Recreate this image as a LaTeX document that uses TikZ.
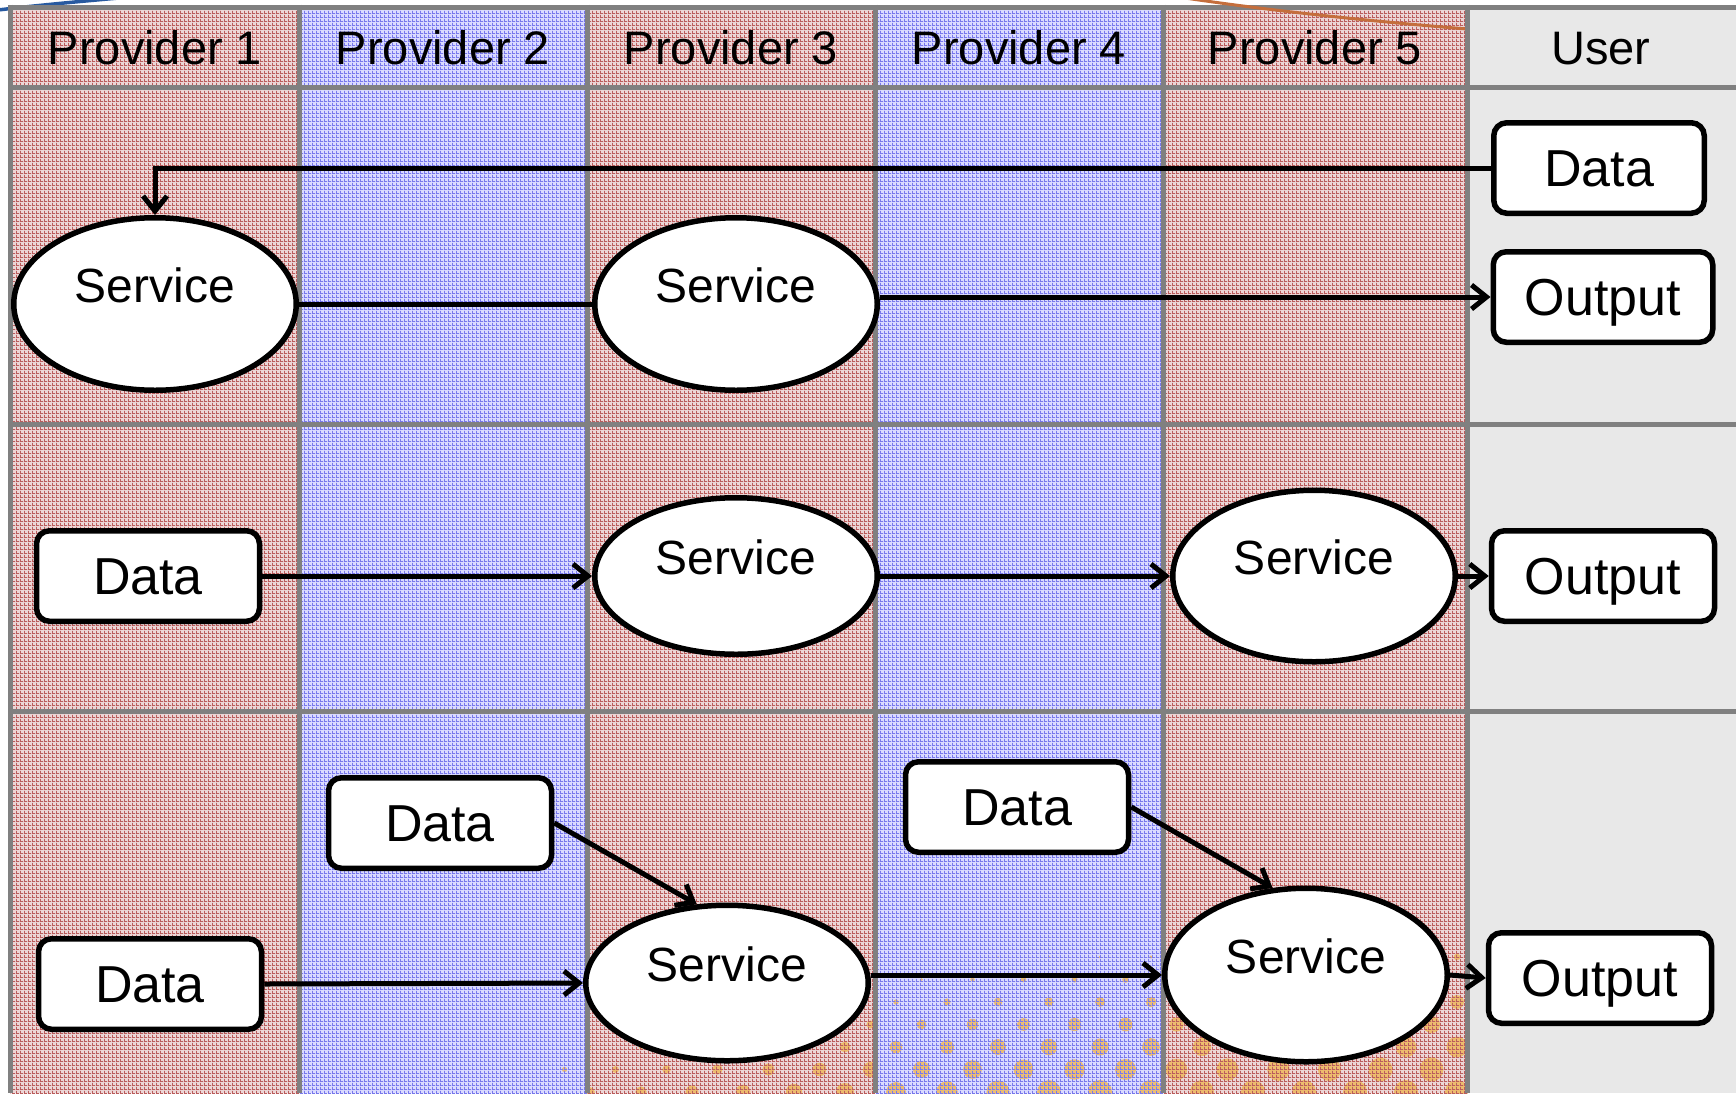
\documentclass[tikz,border=0pt]{standalone}
\usepackage{fontspec}
\setmainfont{Liberation Sans}
\usetikzlibrary{arrows.meta,shapes.geometric,patterns.meta}

\definecolor{redbase}{RGB}{236,214,214}
\definecolor{redline}{RGB}{186,92,92}
\definecolor{bluebase}{RGB}{218,218,255}
\definecolor{blueline}{RGB}{120,120,236}
\definecolor{usergray}{RGB}{232,232,232}
\definecolor{rulegray}{RGB}{128,128,128}
\definecolor{dotorange}{RGB}{238,184,92}
\definecolor{swooshblue}{RGB}{40,90,160}
\definecolor{swooshbrown}{RGB}{196,110,60}

% fine mesh used as the cell texture
\tikzdeclarepattern{
  name=mesh,
  type=uncolored,
  bounding box={(0pt,0pt) and (4pt,4pt)},
  tile size={(4pt,4pt)},
  code={
    \fill (0pt,0pt) rectangle (4pt,1pt);
    \fill (0pt,0pt) rectangle (1pt,4pt);
  }
}

\begin{document}
\begin{tikzpicture}[x=1pt,y=-1pt,
  svc/.style={ellipse, draw, line width=5.5pt, fill=white, inner sep=0pt,
    minimum width=282.5pt, font=\fontsize{48pt}{56pt}\selectfont,
    text height=35pt, text depth=38pt},
  box/.style={rectangle, rounded corners=13pt, draw, line width=5.5pt, fill=white,
    inner sep=0pt, minimum width=223pt, minimum height=90.5pt,
    font=\fontsize{52pt}{60pt}\selectfont, text height=37.4pt, text depth=0pt},
  head/.style={inner sep=0pt, font=\fontsize{47pt}{56pt}\selectfont,
    text height=33.7pt, text depth=0pt},
  conn/.style={line width=5pt},
  arr/.style={conn, -{Straight Barb[length=15pt,width=24pt]}},
  rule/.style={draw=rulegray, line width=5pt},
  redmesh/.style={pattern=mesh, pattern color=redline},
  bluemesh/.style={pattern=mesh, pattern color=blueline}
]
\useasboundingbox (0,0) rectangle (1736,1093);

% column backgrounds
\fill[redbase]  (10.5,7) rectangle (299.5,1093);
\fill[bluebase] (299.5,7) rectangle (587,1093);
\fill[redbase]  (587,7) rectangle (875,1093);
\fill[bluebase] (875,7) rectangle (1163,1093);
\fill[redbase]  (1163,7) rectangle (1467.5,1093);
\fill[usergray] (1467.5,7) rectangle (1736,1093);

% halftone dots in the lower row
\begin{scope}
  \clip (560,711) rectangle (1467.5,1093);
  \foreach \k in {0,...,6} {
    \pgfmathsetmacro{\yy}{957+22.5*\k}
    \pgfmathsetmacro{\xoff}{mod(\k,2)==0 ? 896 : 921.5}
    \foreach \m in {-7,...,11} {
      \pgfmathsetmacro{\xx}{\xoff+51*\m}
      \pgfmathsetmacro{\rr}{min(24, 0.16*(\yy-947) + (\xx<1000 ? 0.033 : 0.011)*(\xx-1000))/2}
      \ifdim\rr pt>0.75pt
        \fill[dotorange, opacity=0.85] (\xx,\yy) circle[radius=\rr pt];
      \fi
    }
  }
\end{scope}

% mesh texture
\fill[redmesh]  (10.5,7) rectangle (299.5,1093);
\fill[bluemesh] (299.5,7) rectangle (587,1093);
\fill[redmesh]  (587,7) rectangle (875,1093);
\fill[bluemesh] (875,7) rectangle (1163,1093);
\fill[redmesh]  (1163,7) rectangle (1467.5,1093);

% corner swoosh
\draw[swooshblue, line width=3.5pt] (-2,10) .. controls (40,5) and (85,1) .. (130,-3);

% table rules
\draw[rule] (8,7) -- (1736,7);
\draw[rule] (8,87.5) -- (1736,87.5);
\draw[rule] (8,424.5) -- (1736,424.5);
\draw[rule] (8,711) -- (1736,711);
\foreach \xv in {10.5,299.5,587,875,1163,1467.5}
  \draw[rule] (\xv,4.5) -- (\xv,1093);

% swoosh crossing the header
\begin{scope}
  \clip (1100,-5) rectangle (1465,60);
  \draw[swooshbrown, line width=3pt] (1185,-2) .. controls (1280,12) and (1380,22) .. (1467,29);
\end{scope}

% headers
\node[head] (h1) at (155,48) {Provider 1};
\node[head] (h2) at (443,48) {Provider 2};
\node[head] (h3) at (731,48) {Provider 3};
\node[head] (h4) at (1019,48) {Provider 4};
\node[head] (h5) at (1315,48) {Provider 5};
\node[head] (h6) at (1601,48) {User};

% first row
\node[box, minimum width=210.5pt] (d1) at (1599,168) {Data};
\node[box, minimum width=219.5pt] (o1) at (1603,297) {Output};
\node[svc, minimum height=172.5pt] (s1) at (155,304) {Service};
\node[svc, minimum height=172.5pt] (s2) at (736,304) {Service};

% second row
\node[box] (d2) at (148,576) {Data};
\node[svc, minimum height=156.5pt] (s3) at (736,576) {Service};
\node[svc, minimum height=171.5pt] (s4) at (1314,576) {Service};
\node[box] (o2) at (1603,576) {Output};

% third row
\node[box] (d3) at (440,823) {Data};
\node[box] (d4) at (1017,807) {Data};
\node[box] (d5) at (150,984) {Data};
\node[svc, minimum height=155.5pt] (s5) at (727,983) {Service};
\node[svc, minimum height=173.5pt] (s6) at (1306,975) {Service};
\node[box] (o3) at (1600,978) {Output};

% connectors
\draw[arr] (d1.west) -| (s1.north);
\draw[conn] (s1.east) -- (s2.west);
\draw[arr] (s2.east |- o1.west) -- (o1.west);

\draw[arr] (d2.east) -- (s3.west);
\draw[arr] (s3.east) -- (s4.west);
\draw[arr] (s4.east) -- (o2.west);

\draw[arr] (d3.east) -- (s5.111);
\draw[arr] (d4.east) -- (s6.111);
\draw[arr] (d5.east) -- (s5.west);
\draw[arr] (s5.east |- s6.west) -- (s6.west);
\draw[arr] (s6.east) -- (o3.west);
\end{tikzpicture}
\end{document}
